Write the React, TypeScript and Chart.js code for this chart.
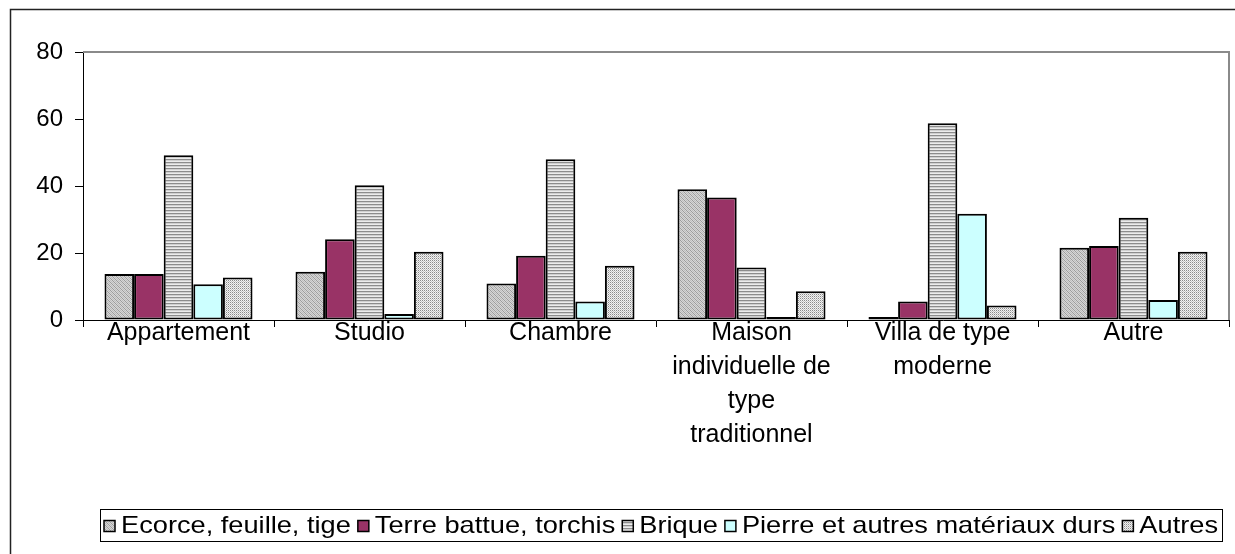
import React, { useEffect, useRef } from 'react';
import { Chart, registerables } from 'chart.js';

Chart.register(...registerables);

// ---- data ----
const categories: (string | string[])[] = [
  'Appartement',
  'Studio',
  'Chambre',
  ['Maison', 'individuelle de', 'type', 'traditionnel'],
  ['Villa de type', 'moderne'],
  'Autre',
];
const seriesNames = [
  'Ecorce, feuille, tige',
  'Terre battue, torchis',
  'Brique',
  'Pierre et autres matériaux durs',
  'Autres',
];
const ecorce = [13.7, 14.4, 10.9, 39.0, 0.5, 21.6];
const terre = [13.7, 24.1, 19.2, 36.6, 5.5, 22.1];
const brique = [49.2, 40.2, 48.0, 15.7, 58.7, 30.5];
const pierre = [10.7, 1.8, 5.5, 0.5, 31.7, 6.0];
const autres = [12.7, 20.4, 16.2, 8.6, 4.3, 20.4];
const yTicks = [0, 20, 40, 60, 80];

const FONT_FAMILY = '"Liberation Sans", Arial, sans-serif';
const FONT_SIZE = 24;
const X_FONT_SIZE = 25;

function makePattern(
  w: number,
  h: number,
  bg: string,
  pixels: [number, number, string][]
): CanvasPattern | string {
  const c = document.createElement('canvas');
  c.width = w;
  c.height = h;
  const g = c.getContext('2d');
  if (!g) return bg;
  g.fillStyle = bg;
  g.fillRect(0, 0, w, h);
  for (const [x, y, col] of pixels) {
    g.fillStyle = col;
    g.fillRect(x, y, 1, 1);
  }
  const p = g.createPattern(c, 'repeat');
  return p || bg;
}

function rowPixels(w: number, y: number, col: string): [number, number, string][] {
  const out: [number, number, string][] = [];
  for (let x = 0; x < w; x++) out.push([x, y, col]);
  return out;
}

const framePlugin = {
  id: 'frameAndLegend',
  beforeDatasetsDraw(chart: any) {
    const { ctx, chartArea } = chart;
    ctx.save();
    ctx.strokeStyle = '#8a8a8a';
    ctx.lineWidth = 2;
    ctx.beginPath();
    ctx.moveTo(chartArea.left, chartArea.top);
    ctx.lineTo(chartArea.right, chartArea.top);
    ctx.lineTo(chartArea.right, chartArea.bottom);
    ctx.stroke();
    ctx.restore();
  },
  afterDraw(chart: any) {
    const { ctx } = chart;
    ctx.save();
    // outer chart frame
    ctx.strokeStyle = '#222';
    ctx.lineWidth = 1.5;
    ctx.beginPath();
    ctx.moveTo(10.5, 560);
    ctx.lineTo(10.5, 9.5);
    ctx.lineTo(1240, 9.5);
    ctx.stroke();

    // legend box
    const boxL = 100;
    const boxR = 1222;
    const boxT = 509;
    const boxB = 541;
    ctx.strokeStyle = '#000';
    ctx.lineWidth = 1;
    ctx.strokeRect(boxL + 0.5, boxT + 0.5, boxR - boxL, boxB - boxT);

    ctx.font = `${FONT_SIZE}px ${FONT_FAMILY}`;
    const ds = chart.data.datasets;
    const widths = ds.map((d: any) => ctx.measureText(d.label).width);
    const marker = 11;
    const gapMT = 6;
    const gapTM = 7;
    const inner = 4;
    const fixed = ds.length * (marker + gapMT) + (ds.length - 1) * gapTM;
    const textTotal = widths.reduce((a: number, b: number) => a + b, 0);
    const sx = (boxR - boxL - 2 * inner - fixed) / textTotal;
    const cy = (boxT + boxB) / 2 + 1;
    let x = boxL + inner;
    ds.forEach((d: any, i: number) => {
      ctx.fillStyle = d.backgroundColor;
      ctx.fillRect(x, cy - marker / 2, marker, marker);
      ctx.strokeStyle = '#000';
      ctx.lineWidth = 1.5;
      ctx.strokeRect(x, cy - marker / 2, marker, marker);
      x += marker + gapMT;
      ctx.save();
      ctx.translate(x, cy);
      ctx.scale(sx, 1);
      ctx.fillStyle = '#000';
      ctx.textAlign = 'left';
      ctx.textBaseline = 'middle';
      ctx.fillText(d.label, 0, 0);
      ctx.restore();
      x += widths[i] * sx + gapTM;
    });
    ctx.restore();
  },
};

export default function App() {
  const ref = useRef<HTMLCanvasElement | null>(null);

  useEffect(() => {
    const canvas = ref.current;
    if (!canvas) return;

    const ecorcePat = makePattern(4, 4, '#d6d6d6', [
      [0, 0, '#9c9c9c'],
      [1, 1, '#9c9c9c'],
      [2, 2, '#9c9c9c'],
      [3, 3, '#9c9c9c'],
      [2, 0, '#bcbcbc'],
      [3, 1, '#bcbcbc'],
      [0, 2, '#bcbcbc'],
      [1, 3, '#bcbcbc'],
    ]);
    const briquePat = makePattern(4, 3, '#ececec', [
      ...rowPixels(4, 0, '#8c8c8c'),
      ...rowPixels(4, 1, '#d0d0d0'),
    ]);
    const autresPat = makePattern(2, 2, '#f2f2f2', [
      [0, 0, '#8a8a8a'],
      [1, 1, '#c4c4c4'],
    ]);

    const fills = [ecorcePat, '#993366', briquePat, '#ccffff', autresPat];
    const values = [ecorce, terre, brique, pierre, autres];

    const chart = new Chart(canvas, {
      type: 'bar',
      data: {
        labels: categories as any,
        datasets: seriesNames.map((name, i) => ({
          label: name,
          data: values[i],
          backgroundColor: fills[i] as any,
          borderColor: '#000',
          borderWidth: 2,
          borderSkipped: false,
          minBarLength: 3,
          categoryPercentage: 0.775,
          barPercentage: 1,
        })),
      },
      options: {
        responsive: false,
        animation: false,
        devicePixelRatio: 1,
        layout: { padding: { left: 0, top: 52, right: 6, bottom: 0 } },
        plugins: {
          legend: { display: false },
          tooltip: { enabled: false },
        },
        scales: {
          x: {
            grid: {
              display: true,
              drawOnChartArea: false,
              drawTicks: true,
              tickLength: 7,
              color: '#000',
              offset: true,
            },
            border: { display: true, color: '#000', width: 1 },
            ticks: {
              color: '#000',
              padding: -11,
              maxRotation: 0,
              autoSkip: false,
              font: { family: FONT_FAMILY, size: X_FONT_SIZE, lineHeight: 1.36 },
            },
            afterFit(scale: any) {
              scale.height = 554 - 320;
            },
          },
          y: {
            min: 0,
            max: 80,
            afterBuildTicks(scale: any) {
              scale.ticks = yTicks.map((v) => ({ value: v }));
            },
            grid: {
              display: true,
              drawOnChartArea: false,
              drawTicks: true,
              tickLength: 8,
              color: '#000',
            },
            border: { display: true, color: '#000', width: 1 },
            ticks: {
              color: '#000',
              padding: 12,
              font: { family: FONT_FAMILY, size: FONT_SIZE },
            },
            afterFit(scale: any) {
              scale.width = 83;
            },
          },
        },
      },
      plugins: [framePlugin],
    });

    return () => chart.destroy();
  }, []);

  return (
    <div
      style={{
        position: 'fixed',
        left: 0,
        top: 0,
        width: 1235,
        height: 554,
        background: '#fff',
      }}
    >
      <canvas ref={ref} width={1235} height={554} style={{ width: 1235, height: 554 }} />
    </div>
  );
}
